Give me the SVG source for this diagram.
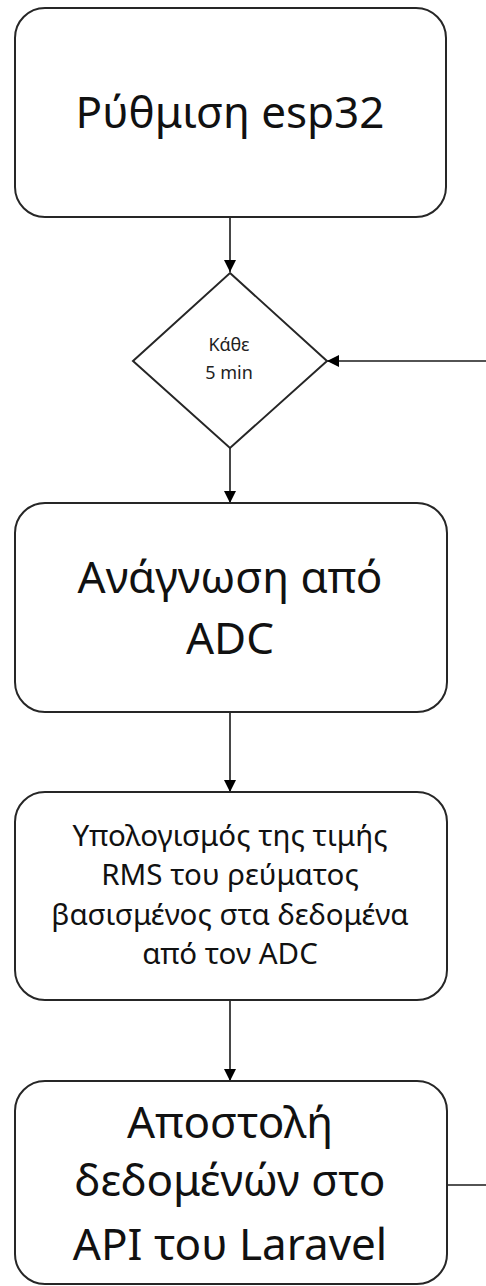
<svg xmlns="http://www.w3.org/2000/svg" width="486" height="1286" viewBox="0 0 486 1286">
<style>
.box{fill:#fff;stroke:#262626;stroke-width:2}
.big{font-family:"Noto Sans","Open Sans","DejaVu Sans",sans-serif;font-size:44px;fill:#111;text-anchor:middle}
.mid{font-family:"Noto Sans","Open Sans","DejaVu Sans",sans-serif;font-size:29.5px;fill:#111;text-anchor:middle}
.small{font-family:"Noto Sans","Open Sans","DejaVu Sans",sans-serif;font-size:18px;fill:#222;text-anchor:middle}
.conn{fill:none;stroke:#1a1a1a;stroke-width:1.6}
</style>
<defs>
<marker id="arr" markerWidth="12" markerHeight="12" refX="12" refY="6" orient="auto" markerUnits="userSpaceOnUse" viewBox="0 0 12 12">
<path d="M0,0 L12,6 L0,12 Z" fill="#000"/>
</marker>
</defs>
<rect width="486" height="1286" fill="#fff"/>
<g id="connectors">
<line class="conn" x1="230" y1="217" x2="230" y2="272" marker-end="url(#arr)"/>
<line class="conn" x1="230" y1="448" x2="230" y2="503" marker-end="url(#arr)"/>
<line class="conn" x1="230" y1="712" x2="230" y2="792" marker-end="url(#arr)"/>
<line class="conn" x1="230" y1="1000" x2="230" y2="1081" marker-end="url(#arr)"/>
<line class="conn" x1="486" y1="361" x2="327" y2="361" marker-end="url(#arr)"/>
<line class="conn" x1="447" y1="1185" x2="486" y2="1185" stroke="#666"/>
</g>
<g id="setup">
<rect class="box" x="15" y="8" width="431" height="209" rx="30" ry="30"/>
<text class="big" x="230" y="128">Ρύθμιση esp32</text>
</g>
<g id="timer">
<polygon class="box" points="230,273 327,361 230,448 133,361"/>
<text class="small" x="229" y="351">Κάθε</text>
<text class="small" x="229" y="379">5 min</text>
</g>
<g id="read">
<rect class="box" x="15" y="503" width="432" height="209" rx="30" ry="30"/>
<text class="big" x="230" y="593">Ανάγνωση από</text>
<text class="big" x="230" y="654">ADC</text>
</g>
<g id="rms">
<rect class="box" x="15" y="792" width="432" height="208" rx="30" ry="30"/>
<text class="mid" x="230" y="846">Υπολογισμός της τιμής</text>
<text class="mid" x="230" y="885">RMS του ρεύματος</text>
<text class="mid" x="230" y="925">βασισμένος στα δεδομένα</text>
<text class="mid" x="230" y="964">από τον ADC</text>
</g>
<g id="send">
<rect class="box" x="15" y="1081" width="432" height="203" rx="30" ry="30"/>
<text class="big" x="230" y="1138">Αποστολή</text>
<text class="big" x="230" y="1196">δεδομένών στο</text>
<text class="big" x="230" y="1260">API του Laravel</text>
</g>
</svg>
